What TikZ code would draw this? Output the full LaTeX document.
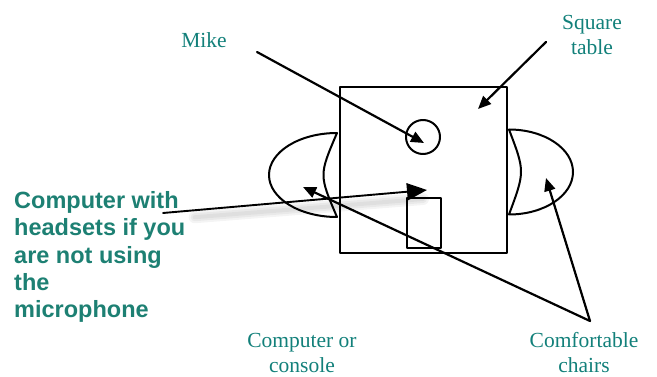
\documentclass[tikz,border=0pt]{standalone}
\usepackage{fontspec}
\setmainfont{Liberation Serif}
\newfontfamily\headfont{Liberation Sans}
\usetikzlibrary{arrows.meta,calc}
\definecolor{labelteal}{HTML}{12807A}
\definecolor{headteal}{HTML}{1D8073}

\tikzset{
  lbl/.style={text=labelteal,font=\fontsize{21.5}{25}\selectfont,align=center,inner sep=0pt},
  headlbl/.style={text=headteal,font=\headfont\bfseries\fontsize{23.5}{27.4}\selectfont,align=left,inner sep=0pt},
  pointer/.style={line width=2.2pt,->},
  bigpointer/.style={line width=1.9pt,-{Triangle[length=20pt,width=17pt]}},
  chair/.style={line width=2pt},
  shadowline/.style={line cap=round,black,opacity=0.045}
}

\begin{document}
\begin{tikzpicture}[x=1pt,y=-1pt,line join=round,line cap=round,>={Triangle[length=13pt,width=11pt]}]
\useasboundingbox (0,0) rectangle (657,377);

\draw[chair] (337,133) arc[start angle=270,end angle=90,x radius=68,y radius=42]
  .. controls (319,175) .. (337,133) -- cycle;
\draw[chair] (509,129.5) arc[start angle=-90,end angle=90,x radius=64,y radius=42.5]
  .. controls (525,171.5) .. (509,129.5) -- cycle;

\node[draw,line width=2.7pt,minimum width=167pt,minimum height=166pt,inner sep=0pt] (table) at (423.5,170) {};
\node[draw,circle,line width=2pt,minimum size=34pt,inner sep=0pt] (mic) at (423,137) {};
\node[draw,line width=2pt,fill=white,minimum width=34pt,minimum height=50pt,inner sep=0pt] (console) at (424,223) {};

\node[lbl,anchor=base] (mike) at (204,48) {Mike};
\node[lbl,anchor=base] (sqtable) at (592,55) {Square\\table};
\node[lbl,anchor=base] (consolelbl) at (302,373) {Computer or\\console};
\node[lbl,anchor=base] (chairs) at (584,373) {Comfortable\\chairs};
\node[headlbl,anchor=base west] (headsets) at (14,318) {Computer with\\headsets if you\\are not using\\the\\microphone};

\coordinate (mikefrom) at (257,52);
\coordinate (mikepick) at (424,143);
\coordinate (tablefrom) at (546,42);
\coordinate (tablepick) at (478,109);
\coordinate (headfrom) at (163,213);
\coordinate (consolepick) at (427,190);
\coordinate (chairsmeet) at (590,321);
\coordinate (lchairpick) at (303,187);
\coordinate (rchairpick) at (546,178);

\foreach \w in {12,8,4}
  \draw[shadowline,line width=\w pt] ($(headfrom)!0.12!(consolepick)+(0,7)$) -- ($(consolepick)+(-4,9)$);

\draw[pointer] (mikefrom) -- (mikepick);
\draw[pointer] (tablefrom) -- (tablepick);
\draw[bigpointer] (headfrom) -- (consolepick);
\draw[pointer] (chairsmeet) -- (lchairpick);
\draw[pointer] (chairsmeet) -- (rchairpick);
\end{tikzpicture}
\end{document}
